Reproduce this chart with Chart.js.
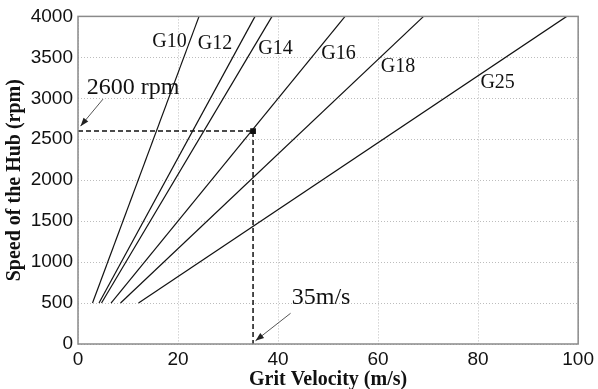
<!DOCTYPE html>
<html>
<head>
<meta charset="utf-8">
<script src="https://cdn.jsdelivr.net/npm/chart.js@4/dist/chart.umd.min.js"></script>
<style>
  html, body { margin: 0; padding: 0; background: #fff; }
  #wrap { width: 598px; height: 389px; }
</style>
</head>
<body>
<div id="wrap"><canvas id="chart"></canvas></div>
<script>
// grit sizes and their line end points (grit velocity m/s at 500 and 4000 rpm)
var grits = ['G10', 'G12', 'G14', 'G16', 'G18', 'G25']
var rpmRange = [500, 4000]
var velStart = [2.9, 4.2, 4.7, 6.6, 8.5, 12.1]
var velEnd = [24.2, 35.4, 38.8, 53.4, 69.1, 97.7]

// label positions of each grit (data coordinates)
var labelVel = [18.3, 27.4, 39.5, 52.1, 64.0, 83.9]
var labelRpm = [3695, 3660, 3600, 3550, 3390, 3185]

// the worked example: 35 m/s gives 2600 rpm
var exampleVel = 35
var exampleRpm = 2600

var xTicks = [0, 20, 40, 60, 80, 100]
var yTicks = [0, 500, 1000, 1500, 2000, 2500, 3000, 3500, 4000]

var datasets = grits.map(function (g, i) {
  return {
    label: g,
    data: [{ x: velStart[i], y: rpmRange[0] }, { x: velEnd[i], y: rpmRange[1] }],
    borderColor: '#111',
    borderWidth: 1.2,
    pointRadius: 0,
    fill: false
  }
})

datasets.push({
  label: 'example',
  data: [{ x: 0, y: exampleRpm }, { x: exampleVel, y: exampleRpm }, { x: exampleVel, y: 0 }],
  borderColor: '#111',
  borderWidth: 1.5,
  borderDash: [5, 3],
  pointRadius: [0, 3, 0],
  pointStyle: 'rect',
  pointBackgroundColor: '#111',
  pointBorderColor: '#111',
  fill: false
})

// box around the plot, like matlab
const boxPlugin = {
  id: 'box',
  afterDraw(chart) {
    const a = chart.chartArea
    const ctx = chart.ctx
    ctx.save()
    ctx.strokeStyle = '#8a8a8a'
    ctx.lineWidth = 1.5
    ctx.strokeRect(a.left, a.top, a.right - a.left, a.bottom - a.top)
    ctx.restore()
  }
}

function arrow(ctx, x1, y1, x2, y2) {
  ctx.beginPath()
  ctx.moveTo(x1, y1)
  ctx.lineTo(x2, y2)
  ctx.stroke()
  const ang = Math.atan2(y2 - y1, x2 - x1)
  const len = 9
  ctx.beginPath()
  ctx.moveTo(x2, y2)
  ctx.lineTo(x2 - len * Math.cos(ang - 0.35), y2 - len * Math.sin(ang - 0.35))
  ctx.lineTo(x2 - len * Math.cos(ang + 0.35), y2 - len * Math.sin(ang + 0.35))
  ctx.closePath()
  ctx.fill()
}

const labelPlugin = {
  id: 'labels',
  afterDatasetsDraw(chart) {
    const ctx = chart.ctx
    const xs = chart.scales.x
    const ys = chart.scales.y
    ctx.save()
    ctx.fillStyle = '#111'
    ctx.textAlign = 'center'
    ctx.textBaseline = 'middle'
    ctx.font = '20px "Liberation Serif", "Times New Roman", serif'
    grits.forEach(function (g, i) {
      ctx.fillText(g, xs.getPixelForValue(labelVel[i]), ys.getPixelForValue(labelRpm[i]))
    })

    ctx.font = '24px "Liberation Serif", "Times New Roman", serif'
    ctx.fillText(exampleRpm + ' rpm', xs.getPixelForValue(11), ys.getPixelForValue(3130))
    ctx.fillText(exampleVel + 'm/s', xs.getPixelForValue(48.6), ys.getPixelForValue(570))

    ctx.strokeStyle = '#555'
    ctx.fillStyle = '#222'
    ctx.lineWidth = 1
    arrow(ctx, xs.getPixelForValue(5), ys.getPixelForValue(2990),
      xs.getPixelForValue(0.5), ys.getPixelForValue(2660))
    arrow(ctx, xs.getPixelForValue(42.5), ys.getPixelForValue(375),
      xs.getPixelForValue(35.5), ys.getPixelForValue(40))
    ctx.restore()
  }
}

const tickFont = { family: '"Liberation Sans", Arial, sans-serif', size: 19 }
const titleFont = { family: '"Liberation Serif", "Times New Roman", serif', size: 20, weight: 'bold' }

new Chart(document.getElementById('chart'), {
  type: 'line',
  data: { datasets: datasets },
  plugins: [boxPlugin, labelPlugin],
  options: {
    responsive: true,
    maintainAspectRatio: false,
    animation: false,
    layout: { padding: { top: 15, right: 17, left: 0, bottom: 0 } },
    plugins: {
      legend: { display: false },
      tooltip: { enabled: false }
    },
    scales: {
      x: {
        type: 'linear',
        min: 0,
        max: 100,
        afterBuildTicks: function (scale) { scale.ticks = xTicks.map(function (v) { return { value: v } }) },
        afterFit: function (scale) { scale.height = 45 },
        ticks: { color: '#111', font: tickFont, padding: 4, maxRotation: 0, callback: function (v) { return String(v) } },
        grid: { color: '#bdbdbd', lineWidth: 1, drawTicks: false },
        border: { display: false, dash: [1, 2] },
        title: { display: true, text: 'Grit Velocity (m/s)', color: '#111', font: titleFont, padding: { top: 0, bottom: -3 } }
      },
      y: {
        type: 'linear',
        min: 0,
        max: 4000,
        afterBuildTicks: function (scale) { scale.ticks = yTicks.map(function (v) { return { value: v } }) },
        afterFit: function (scale) { scale.width = 78 },
        ticks: { color: '#111', font: tickFont, padding: 5, callback: function (v) { return String(v) } },
        grid: { color: '#bdbdbd', lineWidth: 1, drawTicks: false },
        border: { display: false, dash: [1, 2] },
        title: { display: true, text: 'Speed of the Hub (rpm)', color: '#111', font: titleFont, padding: { top: 3, bottom: 0 } }
      }
    }
  }
})
</script>
</body>
</html>
